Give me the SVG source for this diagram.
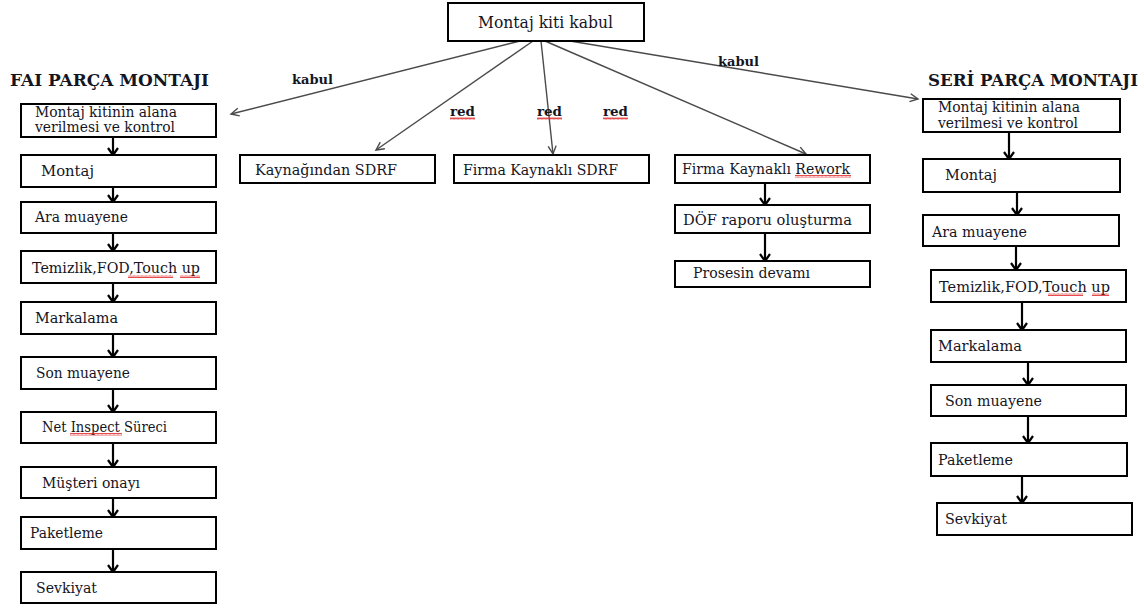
<svg xmlns="http://www.w3.org/2000/svg" width="1144" height="608" viewBox="0 0 1144 608">
  <defs>
    <style>
      .box { fill: #fff; stroke: #000; stroke-width: 2; }
      .t { font-family: "DejaVu Serif", "Liberation Serif", serif; font-size: 14px; fill: #15151f; }
      .big { font-size: 17px; }
      .title { font-family: "DejaVu Serif", "Liberation Serif", serif; font-size: 16px; font-weight: bold; fill: #15151f; }
      .lbl { font-family: "DejaVu Serif", "Liberation Serif", serif; font-size: 13px; font-weight: bold; fill: #15151f; }
      .flow { stroke: #000; stroke-width: 2.2; fill: none; marker-end: url(#headBold); }
      .branch { stroke: #4a4a4a; stroke-width: 1.4; fill: none; marker-end: url(#headThin); }
      .squig { fill: url(#wavy); }
    </style>
    <marker id="headBold" markerUnits="userSpaceOnUse" markerWidth="14" markerHeight="14" refX="10" refY="6" orient="auto">
      <path d="M3,1 L10,6 L3,11" fill="none" stroke="#000" stroke-width="2.2"/>
    </marker>
    <marker id="headThin" markerUnits="userSpaceOnUse" markerWidth="14" markerHeight="14" refX="10" refY="6" orient="auto">
      <path d="M2,2 L10,6 L2,10" fill="none" stroke="#4a4a4a" stroke-width="1.4"/>
    </marker>
    <pattern id="wavy" patternUnits="userSpaceOnUse" width="4" height="3">
      <path d="M0,2.5 L1,0.5 L2,2.5 L3,0.5 L4,2.5" fill="none" stroke="#e02020" stroke-width="0.8"/>
    </pattern>
  </defs>

  <rect width="1144" height="608" fill="#fff"/>

  <!-- column headings -->
  <text class="title" x="10" y="86" textLength="199" lengthAdjust="spacingAndGlyphs">FAI PARÇA MONTAJI</text>
  <text class="title" x="928" y="86" textLength="210" lengthAdjust="spacingAndGlyphs">SERİ PARÇA MONTAJI</text>

  <!-- branch connectors from the kit acceptance box -->
  <g id="connectors">
    <path class="branch" d="M520,41 L231,114"/>
    <path class="branch" d="M533,41 L376,150"/>
    <path class="branch" d="M541,41 L553,154"/>
    <path class="branch" d="M545,41 L806,154"/>
    <path class="branch" d="M570,41 L918,99"/>

    <!-- FAI column -->
    <path class="flow" d="M113,137 L113,155"/>
    <path class="flow" d="M113,187 L113,202"/>
    <path class="flow" d="M113,233 L113,251"/>
    <path class="flow" d="M113,283 L113,302"/>
    <path class="flow" d="M113,334 L113,357"/>
    <path class="flow" d="M113,389 L113,412"/>
    <path class="flow" d="M113,443 L113,467"/>
    <path class="flow" d="M113,498 L113,517"/>
    <path class="flow" d="M113,549 L113,572"/>

    <!-- rework column -->
    <path class="flow" d="M765,183 L765,205"/>
    <path class="flow" d="M765,233 L765,261"/>

    <!-- serial column -->
    <path class="flow" d="M1009,132 L1009,159"/>
    <path class="flow" d="M1017,192 L1017,215"/>
    <path class="flow" d="M1016,246 L1016,270"/>
    <path class="flow" d="M1022,302 L1022,330"/>
    <path class="flow" d="M1028,362 L1028,385"/>
    <path class="flow" d="M1028,416 L1028,443"/>
    <path class="flow" d="M1022,476 L1022,503"/>

    <!-- branch labels -->
    <text class="lbl" x="292" y="84" textLength="41" lengthAdjust="spacingAndGlyphs">kabul</text>
    <text class="lbl" x="718" y="66" textLength="41" lengthAdjust="spacingAndGlyphs">kabul</text>
    <text class="lbl" x="450" y="116" textLength="25" lengthAdjust="spacingAndGlyphs">red</text>
    <text class="lbl" x="537" y="116" textLength="25" lengthAdjust="spacingAndGlyphs">red</text>
    <text class="lbl" x="603" y="116" textLength="25" lengthAdjust="spacingAndGlyphs">red</text>
    <rect class="squig" x="450" y="117" width="25" height="3"/>
    <rect class="squig" x="537" y="117" width="25" height="3"/>
    <rect class="squig" x="603" y="117" width="25" height="3"/>
  </g>

  <g id="kit-acceptance">
    <rect class="box" x="448" y="3" width="196" height="38"/>
    <text class="t big" x="478" y="28" textLength="135" lengthAdjust="spacingAndGlyphs">Montaj kiti kabul</text>
  </g>

  <!-- FAI part assembly -->
  <g id="fai-1">
    <rect class="box" x="21" y="104" width="195" height="33"/>
    <text class="t" x="35" y="117" textLength="142" lengthAdjust="spacingAndGlyphs">Montaj kitinin alana</text>
    <text class="t" x="35" y="132" textLength="140" lengthAdjust="spacingAndGlyphs">verilmesi  ve kontrol</text>
  </g>
  <g id="fai-2">
    <rect class="box" x="21" y="155" width="195" height="32"/>
    <text class="t" x="41" y="176" textLength="53" lengthAdjust="spacingAndGlyphs">Montaj</text>
  </g>
  <g id="fai-3">
    <rect class="box" x="21" y="202" width="195" height="31"/>
    <text class="t" x="35" y="222" textLength="93" lengthAdjust="spacingAndGlyphs">Ara muayene</text>
  </g>
  <g id="fai-4">
    <rect class="box" x="21" y="251" width="195" height="32"/>
    <text class="t" x="32" y="273" textLength="168" lengthAdjust="spacingAndGlyphs">Temizlik,FOD,Touch  up</text>
    <rect class="squig" x="128" y="275" width="45" height="3"/>
    <rect class="squig" x="180" y="275" width="20" height="3"/>
  </g>
  <g id="fai-5">
    <rect class="box" x="21" y="302" width="195" height="32"/>
    <text class="t" x="35" y="323" textLength="83" lengthAdjust="spacingAndGlyphs">Markalama</text>
  </g>
  <g id="fai-6">
    <rect class="box" x="21" y="357" width="195" height="32"/>
    <text class="t" x="36" y="378" textLength="94" lengthAdjust="spacingAndGlyphs">Son muayene</text>
  </g>
  <g id="fai-7">
    <rect class="box" x="21" y="412" width="195" height="31"/>
    <text class="t" x="42" y="432" textLength="125" lengthAdjust="spacingAndGlyphs">Net Inspect Süreci</text>
    <rect class="squig" x="70" y="433" width="52" height="3"/>
  </g>
  <g id="fai-8">
    <rect class="box" x="21" y="467" width="195" height="31"/>
    <text class="t" x="42" y="488" textLength="98" lengthAdjust="spacingAndGlyphs">Müşteri onayı</text>
  </g>
  <g id="fai-9">
    <rect class="box" x="21" y="517" width="195" height="32"/>
    <text class="t" x="30" y="538" textLength="73" lengthAdjust="spacingAndGlyphs">Paketleme</text>
  </g>
  <g id="fai-10">
    <rect class="box" x="21" y="572" width="195" height="31"/>
    <text class="t" x="36" y="593" textLength="61" lengthAdjust="spacingAndGlyphs">Sevkiyat</text>
  </g>

  <!-- rejection outcomes -->
  <g id="sdrf-source">
    <rect class="box" x="240" y="155" width="195" height="28"/>
    <text class="t" x="255" y="175" textLength="142" lengthAdjust="spacingAndGlyphs">Kaynağından SDRF</text>
  </g>
  <g id="sdrf-firm">
    <rect class="box" x="454" y="155" width="195" height="28"/>
    <text class="t" x="463" y="175" textLength="155" lengthAdjust="spacingAndGlyphs">Firma Kaynaklı SDRF</text>
  </g>
  <g id="rework-firm">
    <rect class="box" x="675" y="155" width="195" height="28"/>
    <text class="t" x="682" y="174" textLength="168" lengthAdjust="spacingAndGlyphs">Firma Kaynaklı Rework</text>
    <rect class="squig" x="795" y="175" width="56" height="3"/>
  </g>
  <g id="dof-report">
    <rect class="box" x="675" y="205" width="195" height="28"/>
    <text class="t" x="683" y="225" textLength="169" lengthAdjust="spacingAndGlyphs">DÖF  raporu oluşturma</text>
  </g>
  <g id="process-continue">
    <rect class="box" x="675" y="261" width="195" height="26"/>
    <text class="t" x="693" y="278" textLength="117" lengthAdjust="spacingAndGlyphs">Prosesin  devamı</text>
  </g>

  <!-- serial part assembly -->
  <g id="seri-1">
    <rect class="box" x="923" y="99" width="197" height="33"/>
    <text class="t" x="938" y="112" textLength="142" lengthAdjust="spacingAndGlyphs">Montaj kitinin alana</text>
    <text class="t" x="938" y="128" textLength="140" lengthAdjust="spacingAndGlyphs">verilmesi  ve kontrol</text>
  </g>
  <g id="seri-2">
    <rect class="box" x="923" y="159" width="197" height="33"/>
    <text class="t" x="945" y="180" textLength="52" lengthAdjust="spacingAndGlyphs">Montaj</text>
  </g>
  <g id="seri-3">
    <rect class="box" x="923" y="215" width="196" height="31"/>
    <text class="t" x="932" y="237" textLength="95" lengthAdjust="spacingAndGlyphs">Ara muayene</text>
  </g>
  <g id="seri-4">
    <rect class="box" x="931" y="270" width="195" height="32"/>
    <text class="t" x="939" y="292" textLength="171" lengthAdjust="spacingAndGlyphs">Temizlik,FOD,Touch  up</text>
    <rect class="squig" x="1048" y="293" width="35" height="3"/>
    <rect class="squig" x="1092" y="293" width="17" height="3"/>
  </g>
  <g id="seri-5">
    <rect class="box" x="931" y="330" width="195" height="32"/>
    <text class="t" x="938" y="351" textLength="84" lengthAdjust="spacingAndGlyphs">Markalama</text>
  </g>
  <g id="seri-6">
    <rect class="box" x="931" y="385" width="195" height="31"/>
    <text class="t" x="945" y="406" textLength="97" lengthAdjust="spacingAndGlyphs">Son muayene</text>
  </g>
  <g id="seri-7">
    <rect class="box" x="931" y="443" width="196" height="33"/>
    <text class="t" x="938" y="465" textLength="75" lengthAdjust="spacingAndGlyphs">Paketleme</text>
  </g>
  <g id="seri-8">
    <rect class="box" x="937" y="503" width="195" height="32"/>
    <text class="t" x="945" y="524" textLength="62" lengthAdjust="spacingAndGlyphs">Sevkiyat</text>
  </g>
</svg>
